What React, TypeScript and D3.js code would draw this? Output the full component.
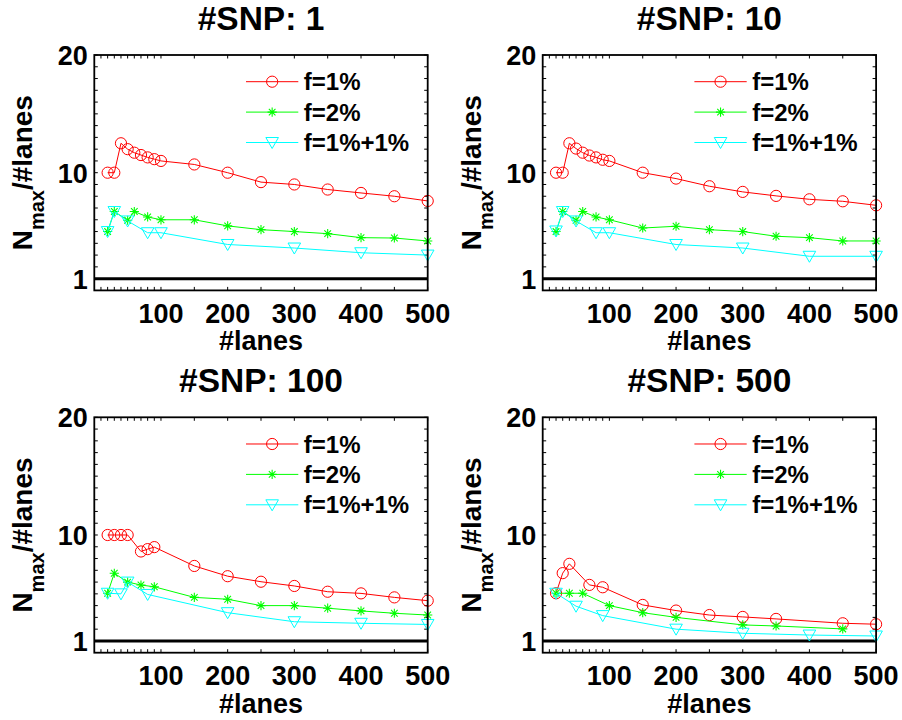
import React from 'react';
import * as d3 from 'd3';

const panelTitles = ['#SNP: 1', '#SNP: 10', '#SNP: 100', '#SNP: 500'];
const seriesLabels = ['f=1%', 'f=2%', 'f=1%+1%'];
const seriesColors = ['#ff0000', '#00ff00', '#00ffff'];
const yTickLabels = [1, 10, 20];
const xTickLabels = [100, 200, 300, 400, 500];
const xMinorTicks = [10, 20, 30, 40, 50, 60, 70, 80, 90, 100, 150, 200, 250, 300, 350, 400, 450, 500];
const yMinorTicks = [1, 2, 3, 4, 5, 6, 7, 8, 9, 10, 11, 12, 13, 14, 15, 16, 17, 18, 19, 20];
const refLineValue = 1;

// #SNP: 1
const snp1RedX = [20, 30, 40, 50, 60, 70, 80, 90, 100, 150, 200, 250, 300, 350, 400, 450, 500];
const snp1RedY = [10.0, 10.0, 12.5, 12.0, 11.7, 11.5, 11.3, 11.15, 11.0, 10.7, 10.0, 9.2, 9.0, 8.57, 8.28, 8.0, 7.6];
const snp1GreenX = [20, 30, 50, 60, 80, 100, 150, 200, 250, 300, 350, 400, 450, 500];
const snp1GreenY = [5.0, 6.7, 5.96, 6.7, 6.24, 6.0, 6.0, 5.48, 5.16, 5.0, 4.82, 4.48, 4.45, 4.2];
const snp1CyanX = [20, 30, 50, 80, 100, 200, 300, 400, 500];
const snp1CyanY = [5.0, 6.7, 5.9, 4.9, 4.9, 3.9, 3.6, 3.2, 3.0];

// #SNP: 10
const snp10RedX = [20, 30, 40, 50, 60, 70, 80, 90, 100, 150, 200, 250, 300, 350, 400, 450, 500];
const snp10RedY = [10.0, 10.0, 12.5, 12.05, 11.7, 11.46, 11.3, 11.1, 11.0, 10.0, 9.5, 8.85, 8.37, 8.03, 7.74, 7.57, 7.23];
const snp10GreenX = [20, 30, 50, 60, 80, 100, 150, 200, 250, 300, 350, 400, 450, 500];
const snp10GreenY = [5.0, 6.7, 5.96, 6.7, 6.24, 6.0, 5.3, 5.45, 5.16, 5.0, 4.6, 4.48, 4.2, 4.2];
const snp10CyanX = [20, 30, 50, 80, 100, 200, 300, 400, 500];
const snp10CyanY = [5.05, 6.7, 5.9, 4.9, 4.9, 3.9, 3.6, 2.9, 2.9];

// #SNP: 100
const snp100RedX = [20, 30, 40, 50, 70, 80, 90, 150, 200, 250, 300, 350, 400, 450, 500];
const snp100RedY = [10.0, 10.0, 10.0, 10.0, 8.6, 8.8, 8.97, 7.37, 6.5, 6.03, 5.67, 5.18, 5.04, 4.7, 4.42];
const snp100GreenX = [20, 30, 50, 70, 90, 150, 200, 250, 300, 350, 400, 450, 500];
const snp100GreenY = [5.05, 6.75, 6.0, 5.75, 5.6, 4.7, 4.54, 4.0, 4.0, 3.78, 3.55, 3.35, 3.2];
const snp100CyanX = [20, 40, 50, 80, 200, 300, 400, 500];
const snp100CyanY = [5.05, 5.0, 6.0, 4.95, 3.4, 2.63, 2.5, 2.4];

// #SNP: 500
const snp500RedX = [20, 30, 40, 70, 90, 150, 200, 250, 300, 350, 450, 500];
const snp500RedY = [5.05, 6.76, 7.55, 5.76, 5.56, 4.06, 3.58, 3.2, 3.04, 2.87, 2.5, 2.42];
const snp500GreenX = [20, 40, 60, 100, 150, 200, 300, 350, 450];
const snp500GreenY = [5.05, 5.05, 5.05, 4.0, 3.4, 3.0, 2.36, 2.27, 2.02];
const snp500CyanX = [20, 50, 90, 200, 300, 400, 500];
const snp500CyanY = [5.05, 3.95, 3.15, 2.0, 1.65, 1.5, 1.42];

const panelSeries = [
  [[snp1RedX, snp1RedY], [snp1GreenX, snp1GreenY], [snp1CyanX, snp1CyanY]],
  [[snp10RedX, snp10RedY], [snp10GreenX, snp10GreenY], [snp10CyanX, snp10CyanY]],
  [[snp100RedX, snp100RedY], [snp100GreenX, snp100GreenY], [snp100CyanX, snp100CyanY]],
  [[snp500RedX, snp500RedY], [snp500GreenX, snp500GreenY], [snp500CyanX, snp500CyanY]],
];

const FONT = "'Liberation Sans', Arial, Helvetica, sans-serif";
const PLOT_W = 333.4;
const PLOT_H = 235.4;
const originsX = [94.3, 542.7];
const originsY = [55, 417.3];

function Marker({ kind, color, cx, cy }: { kind: number; color: string; cx: number; cy: number }) {
  if (kind === 0) {
    return <circle cx={cx} cy={cy} r={5.6} fill="none" stroke={color} strokeWidth={1} />;
  }
  if (kind === 1) {
    const s = 4.6;
    const d = s * 0.72;
    return (
      <path
        d={`M${cx - s},${cy}L${cx + s},${cy}M${cx},${cy - s}L${cx},${cy + s}M${cx - d},${cy - d}L${cx + d},${cy + d}M${cx - d},${cy + d}L${cx + d},${cy - d}`}
        stroke={color}
        strokeWidth={1.1}
        fill="none"
      />
    );
  }
  return (
    <path
      d={`M${cx - 6.3},${cy - 5}L${cx + 6.3},${cy - 5}L${cx},${cy + 6}Z`}
      fill="none"
      stroke={color}
      strokeWidth={1}
    />
  );
}

function Panel({ index }: { index: number }) {
  const ox = originsX[index % 2];
  const oy = originsY[Math.floor(index / 2)];
  const x = d3.scaleLinear().domain([0, 500]).range([0, PLOT_W]);
  const y = d3.scaleLinear().domain([0, 20]).range([PLOT_H, 0]);
  const line = d3
    .line<[number, number]>()
    .x((d) => x(d[0]))
    .y((d) => y(d[1]));
  const series = panelSeries[index];
  const tickLen = 3.5;

  return (
    <g transform={`translate(${ox},${oy})`}>
      <text
        x={PLOT_W / 2}
        y={-25}
        textAnchor="middle"
        fontFamily={FONT}
        fontWeight="bold"
        fontSize={33.5}
      >
        {panelTitles[index]}
      </text>

      {/* minor ticks */}
      {xMinorTicks.map((t) => (
        <g key={'xt' + t}>
          <line x1={x(t)} x2={x(t)} y1={PLOT_H} y2={PLOT_H - tickLen} stroke="#000" strokeWidth={1} />
          <line x1={x(t)} x2={x(t)} y1={0} y2={tickLen} stroke="#000" strokeWidth={1} />
        </g>
      ))}
      {yMinorTicks.map((t) => (
        <g key={'yt' + t}>
          <line x1={0} x2={tickLen} y1={y(t)} y2={y(t)} stroke="#000" strokeWidth={1} />
          <line x1={PLOT_W} x2={PLOT_W - tickLen} y1={y(t)} y2={y(t)} stroke="#000" strokeWidth={1} />
        </g>
      ))}

      {/* reference line */}
      <line
        x1={x(0)}
        x2={x(500)}
        y1={y(refLineValue)}
        y2={y(refLineValue)}
        stroke="#000"
        strokeWidth={3}
      />

      {series.map(([xs, ys], si) => {
        const pts: [number, number][] = xs.map((v, i) => [v, ys[i]]);
        return (
          <g key={'s' + si}>
            <path d={line(pts) || ''} fill="none" stroke={seriesColors[si]} strokeWidth={1} />
            {pts.map((p, i) => (
              <Marker key={i} kind={si} color={seriesColors[si]} cx={x(p[0])} cy={y(p[1])} />
            ))}
          </g>
        );
      })}

      {/* axes box */}
      <rect x={0} y={0} width={PLOT_W} height={PLOT_H} fill="none" stroke="#000" strokeWidth={1.8} />

      {/* tick labels */}
      {xTickLabels.map((t) => (
        <text
          key={'xl' + t}
          x={x(t)}
          y={PLOT_H + 32.5}
          textAnchor="middle"
          fontFamily={FONT}
          fontWeight="bold"
          fontSize={27}
        >
          {t}
        </text>
      ))}
      {yTickLabels.map((t) => (
        <text
          key={'yl' + t}
          x={-6.5}
          y={y(t) + 10}
          textAnchor="end"
          fontFamily={FONT}
          fontWeight="bold"
          fontSize={27}
        >
          {t}
        </text>
      ))}

      {/* axis labels */}
      <text
        x={PLOT_W / 2}
        y={PLOT_H + 60}
        textAnchor="middle"
        fontFamily={FONT}
        fontWeight="bold"
        fontSize={27}
      >
        #lanes
      </text>
      <text
        transform={`translate(-62,${PLOT_H / 2}) rotate(-90)`}
        textAnchor="middle"
        fontFamily={FONT}
        fontWeight="bold"
        fontSize={28}
      >
        <tspan>N</tspan>
        <tspan fontSize={20} dy={12}>max</tspan>
        <tspan dy={-12}>/#lanes</tspan>
      </text>

      {/* legend */}
      {seriesLabels.map((lab, i) => {
        const ry = 26.7 + i * 30.4;
        const lx0 = 151.7;
        const lx1 = 204;
        return (
          <g key={'lg' + i}>
            <line x1={lx0} x2={lx1} y1={ry} y2={ry} stroke={seriesColors[i]} strokeWidth={1} />
            <Marker kind={i} color={seriesColors[i]} cx={(lx0 + lx1) / 2} cy={ry} />
            <text
              x={209.5}
              y={ry + 8.7}
              fontFamily={FONT}
              fontWeight="bold"
              fontSize={24}
            >
              {lab}
            </text>
          </g>
        );
      })}
    </g>
  );
}

export default function App() {
  return (
    <svg
      width={902}
      height={720}
      viewBox="0 0 902 720"
      style={{ position: 'absolute', left: 0, top: 0, background: '#fff' }}
    >
      <rect x={0} y={0} width={902} height={720} fill="#fff" />
      {[0, 1, 2, 3].map((i) => (
        <Panel key={i} index={i} />
      ))}
    </svg>
  );
}
